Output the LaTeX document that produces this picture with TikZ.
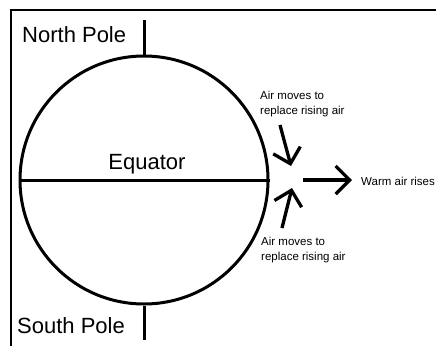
\documentclass[tikz,border=0pt]{standalone}
\usepackage{fontspec}
\setmainfont{Liberation Sans}
\usetikzlibrary{arrows.meta}

\begin{document}
\begin{tikzpicture}[
  x=1pt,y=-1pt,
  big/.style={font=\fontsize{22}{26}\selectfont,inner sep=0pt},
  small/.style={font=\fontsize{11.5}{14.5}\selectfont,inner sep=0pt,align=left},
  ln/.style={line width=3pt},
  flow/.style={line width=3.3pt,-{Straight Barb[length=14pt,width=28pt,line width=3.3pt]}}]

\useasboundingbox (0,0) rectangle (445,346);

% ---- frame ----
\draw[line width=2.2pt] (11,346) -- (11,10) -- (436,10);

% ---- globe ----
\node[circle,draw,ln,minimum size=248pt,inner sep=0pt] (globe) at (144,180) {};
\draw[ln] (globe.west) -- (globe.east);
\coordinate (np) at (144,20);
\coordinate (sp) at (144,340);
\draw[ln] (globe.north) -- (np);
\draw[ln] (globe.south) -- (sp);

\node[big,anchor=west] (north) at (22,35) {North Pole};
\node[big,anchor=west] (south) at (17,326) {South Pole};
\node[big] (eq) at (147,164) {Equator};

% ---- air flow ----
\node[small,anchor=west] (upper) at (260,104) {Air moves to\\replace rising air};
\node[small,anchor=west] (lower) at (261,250) {Air moves to\\replace rising air};
\node[small,anchor=west] (warm) at (361,181) {Warm air rises};

\coordinate (u1) at (280,125);
\coordinate (u2) at (291,166);
\coordinate (l1) at (282,228);
\coordinate (l2) at (292,188);
\coordinate (r1) at (303,180);
\coordinate (r2) at (352,180);
\draw[flow] (u1) -- (u2);
\draw[flow] (l1) -- (l2);
\draw[flow] (r1) -- (r2);
\end{tikzpicture}
\end{document}
